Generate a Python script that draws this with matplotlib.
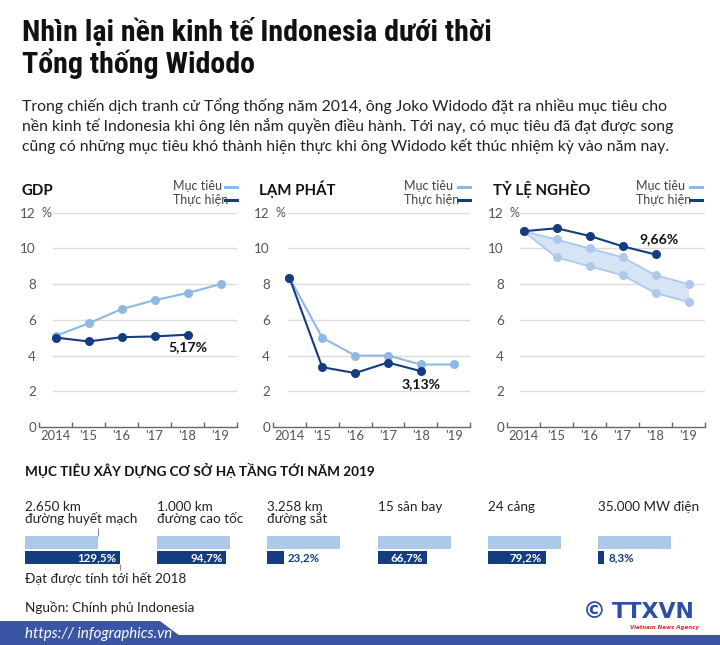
import matplotlib
matplotlib.use("Agg")
import matplotlib.pyplot as plt
from matplotlib import font_manager
from matplotlib.patches import Polygon, Rectangle
from matplotlib.lines import Line2D

# ---- data ----
years = ["2014", "'15", "'16", "'17", "'18", "'19"]

gdp_target = [5.1, 5.8, 6.6, 7.1, 7.5, 8.0]
gdp_actual = [5.01, 4.79, 5.03, 5.07, 5.17]

inf_target = [8.36, 5.0, 4.0, 4.0, 3.5, 3.5]
inf_actual = [8.36, 3.35, 3.02, 3.61, 3.13]

pov_target_hi = [10.96, 10.5, 10.0, 9.5, 8.5, 8.0]
pov_target_lo = [10.96, 9.5, 9.0, 8.5, 7.5, 7.0]
pov_actual = [10.96, 11.13, 10.70, 10.12, 9.66]

infra_labels = ["2.650 km\nđường huyết mạch", "1.000 km\nđường cao tốc", "3.258 km\nđường sắt",
                "15 sân bay", "24 cảng", "35.000 MW điện"]
infra_pct = [129.5, 94.7, 23.2, 66.7, 79.2, 8.3]

LIGHT = "#8db9e3"
DARK = "#143c80"
BAND = "#d7e4f5"
BAND_LINE = "#adc9eb"
GRID = "#dcdcdc"
TICK = "#555555"


def pick(*names):
    for n in names:
        try:
            font_manager.findfont(n, fallback_to_default=False)
            return n
        except ValueError:
            pass
    return "DejaVu Sans"


TITLE_FONT = pick("Roboto Condensed", "Open Sans Condensed", "Liberation Sans Narrow", "Lato")
BODY_FONT = pick("Lato", "Open Sans")
plt.rcParams["font.family"] = [BODY_FONT, "DejaVu Sans"]

W, H = 720, 645
fig = plt.figure(figsize=(7.2, 6.45), dpi=100)


def fx(x):
    return x / W


def fy(y):
    return 1 - y / H


def pt(px):
    return px * 0.72


def ftext(x, y, s, size, **kw):
    kw.setdefault("va", "baseline")
    kw.setdefault("color", "#222222")
    return fig.text(fx(x), fy(y), s, fontsize=pt(size), **kw)


# ---- header ----
ftext(22, 41, "Nhìn lại nền kinh tế Indonesia dưới thời", 30, weight="bold",
      color="#111111", family=[TITLE_FONT, "DejaVu Sans"])
ftext(22, 73, "Tổng thống Widodo", 30, weight="bold",
      color="#111111", family=[TITLE_FONT, "DejaVu Sans"])
body = ["Trong chiến dịch tranh cử Tổng thống năm 2014, ông Joko Widodo đặt ra nhiều mục tiêu cho",
        "nền kinh tế Indonesia khi ông lên nắm quyền điều hành. Tới nay, có mục tiêu đã đạt được song",
        "cũng có những mục tiêu khó thành hiện thực khi ông Widodo kết thúc nhiệm kỳ vào năm nay."]
for i, line in enumerate(body):
    ftext(22, 110.5 + 20.5 * i, line, 15.7)

# ---- line panels ----
Y0, Y12 = 427, 212.7


def panel(x0, x1, grid_x, title, title_x, leg_x, leg_line):
    ax = fig.add_axes([fx(x0), fy(Y0), (x1 - x0) / W, (Y0 - Y12) / H])
    ax.set_xlim(-0.5, 5.5)
    ax.set_ylim(0, 12)
    ax.patch.set_alpha(0)
    for s in ["top", "right", "left"]:
        ax.spines[s].set_visible(False)
    ax.spines["bottom"].set_color("#666666")
    ax.spines["bottom"].set_linewidth(1)
    ax.set_xticks(range(6))
    ax.set_xticklabels(years)
    ax.set_xticks([i - 0.5 for i in range(7)], minor=True)
    ax.tick_params(axis="x", which="major", length=0, pad=pt(3), labelsize=pt(13), labelcolor=TICK)
    ax.tick_params(axis="x", which="minor", length=pt(5), direction="in", color="#666666", width=1)
    ax.set_yticks(range(0, 13, 2))
    ax.tick_params(axis="y", length=0, pad=pt(3), labelsize=pt(13.5), labelcolor=TICK)
    ax.text(0.012, 12, "%", transform=ax.get_yaxis_transform(), ha="left", va="center",
            fontsize=pt(12.5), color=TICK)
    gx = (grid_x - x0) / (x1 - x0)
    for y in range(2, 13, 2):
        ax.axhline(y, xmin=gx, xmax=1, color=GRID, lw=1, zorder=0)
    ftext(title_x, 195, title, 15, weight="bold", color="#111111")
    ftext(leg_x, 190.5, "Mục tiêu", 12.5, color="#444444")
    ftext(leg_x, 204, "Thực hiện", 12.5, color="#444444")
    fig.add_artist(Line2D([fx(leg_line), fx(leg_line + 12)], [fy(187), fy(187)],
                          color=LIGHT, lw=2.2))
    fig.add_artist(Line2D([fx(leg_line), fx(leg_line + 12)], [fy(200), fy(200)],
                          color=DARK, lw=2.2))
    return ax


xs = list(range(6))
ms = 6.5

ax1 = panel(39, 237, 53, "GDP", 22, 173, 225)
ax1.plot(xs, gdp_target, color=LIGHT, lw=1.5, marker="o", ms=ms, mec="none", zorder=3)
ax1.plot(xs[:5], gdp_actual, color=DARK, lw=1.5, marker="o", ms=ms, mec="none", zorder=4)
ax1.annotate("5,17%", (4, gdp_actual[-1]), xytext=(0, -pt(12.5)), textcoords="offset points",
             ha="center", va="center", fontsize=pt(14), weight="bold", color="#111111")

ax2 = panel(273, 470, 288, "LẠM PHÁT", 259, 404, 458)
ax2.plot(xs, inf_target, color=LIGHT, lw=1.5, marker="o", ms=ms, mec="none", zorder=3)
ax2.plot(xs[:5], inf_actual, color=DARK, lw=1.5, marker="o", ms=ms, mec="none", zorder=4)
ax2.annotate("3,13%", (4, inf_actual[-1]), xytext=(0, -pt(12.5)), textcoords="offset points",
             ha="center", va="center", fontsize=pt(14), weight="bold", color="#111111")

ax3 = panel(507, 705, 520, "TỶ LỆ NGHÈO", 493, 636, 690)
ax3.fill_between(xs, pov_target_lo, pov_target_hi, color=BAND, lw=0, zorder=1)
ax3.plot(xs, pov_target_hi, color=BAND_LINE, lw=1.3, marker="o", ms=ms, mec="none", zorder=3)
ax3.plot(xs, pov_target_lo, color=BAND_LINE, lw=1.3, marker="o", ms=ms, mec="none", zorder=3)
ax3.plot(xs[:5], pov_actual, color=DARK, lw=1.5, marker="o", ms=ms, mec="none", zorder=4)
ax3.annotate("9,66%", (4, pov_actual[-1]), xytext=(pt(4), pt(15)), textcoords="offset points",
             ha="center", va="center", fontsize=pt(14), weight="bold", color="#111111")

# ---- infrastructure bars ----
ftext(25, 475.5, "MỤC TIÊU XÂY DỰNG CƠ SỞ HẠ TẦNG TỚI NĂM 2019", 13.5, weight="bold",
      color="#111111")

group_x = [25, 157, 267, 378, 488, 598]
UNIT = 73  # px for 100 %
for gx, lab, pct in zip(group_x, infra_labels, infra_pct):
    for j, ln in enumerate(lab.split("\n")):
        ftext(gx, 511 + 12 * j, ln, 13.5)
    bax = fig.add_axes([fx(gx), fy(565), 1.6 * UNIT / W, 30 / H])
    bax.set_xlim(0, 1.6)
    bax.set_ylim(-0.5, 1.5)
    bax.axis("off")
    bax.barh([1, 0], [1.0, pct / 100], height=0.87, color=["#adc9ea", DARK])
    txt = f"{pct:.1f}".replace(".", ",") + "%"
    if pct > 30:
        bax.text(pct / 100 - 0.05, 0, txt, ha="right", va="center", color="white",
                 weight="bold", fontsize=pt(11.5))
    else:
        bax.text(pct / 100 + 0.055, 0, txt, ha="left", va="center", color=DARK,
                 weight="bold", fontsize=pt(11.5))
    if pct > 100:
        bax.vlines(1.0, 1.435, 1.97, color="#888888", lw=0.8, clip_on=False)
        bax.vlines(pct / 100, -0.435, -0.85, color="#888888", lw=0.8, clip_on=False)

ftext(25, 583, "Đạt được tính tới hết 2018", 13.5)
ftext(25, 612, "Nguồn: Chính phủ Indonesia", 13.5)

# ---- footer ----
FOOT = "#3a55a4"
fig.add_artist(Rectangle((0, 0), 1, fy(635), transform=fig.transFigure, color=FOOT, lw=0))
fig.add_artist(Polygon([(0, fy(621)), (fx(160), fy(621)), (fx(180), fy(636)), (0, fy(636))],
                       closed=True, transform=fig.transFigure, color=FOOT, lw=0))
ftext(25, 638, "https:// infographics.vn", 15, color="white", style="italic")

# TTXVN mark
ftext(594, 618, "©", 23, color="#2d4fa3", ha="center", weight="bold", family="DejaVu Sans")
ftext(612, 618, "TTXVN", 22, color="#2d4fa3", weight="heavy", family="DejaVu Sans")
ftext(665, 629, "Vietnam News Agency", 5.5, color="#d42a2f", ha="center", weight="bold",
      style="italic", family="DejaVu Sans")

fig.savefig("out.png", dpi=100)
